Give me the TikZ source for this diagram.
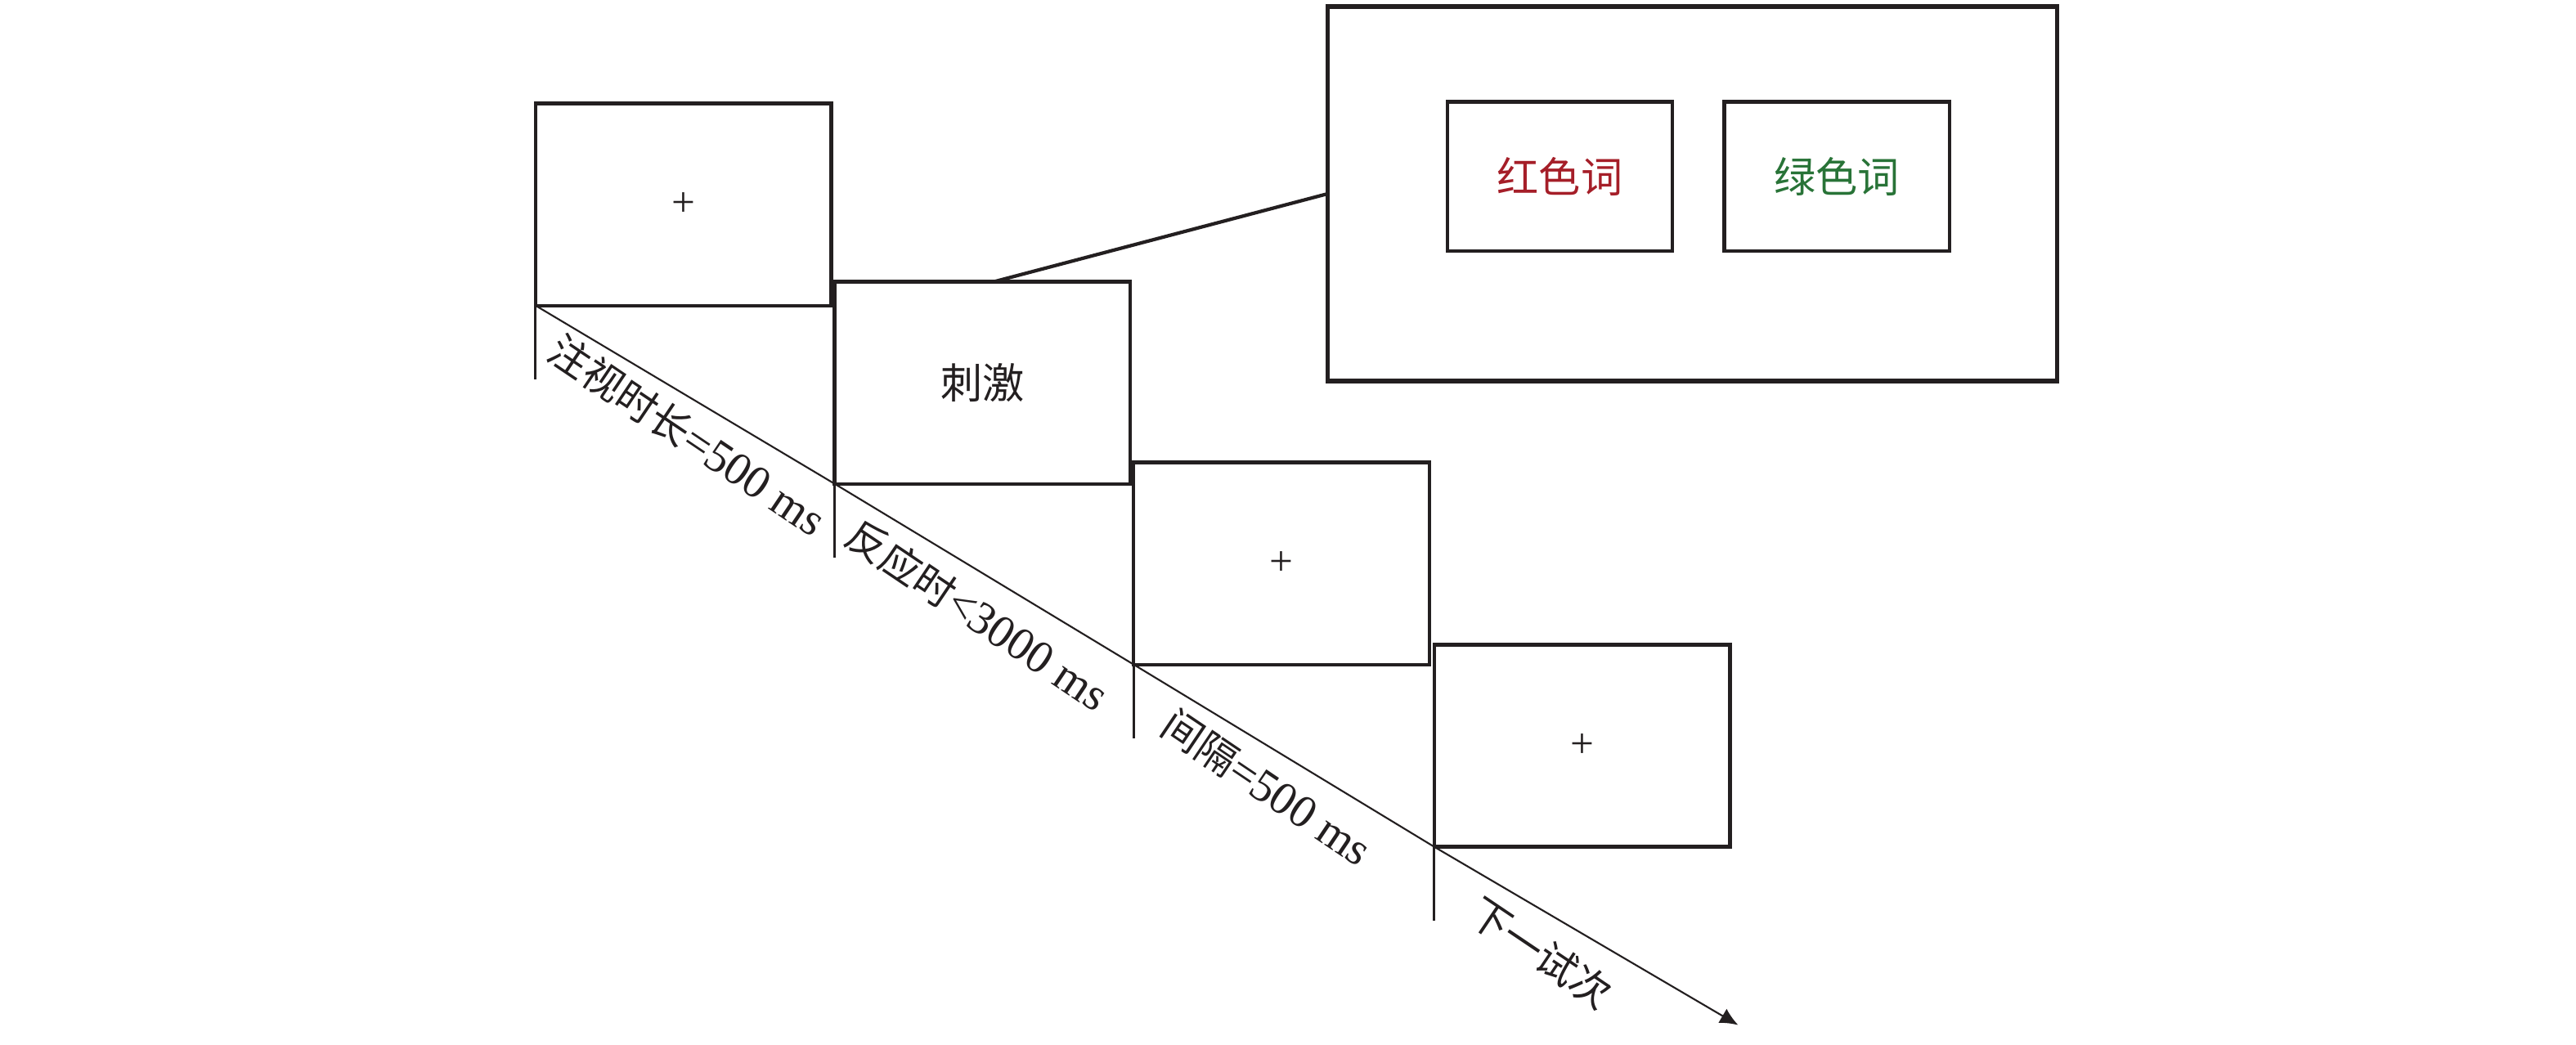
\documentclass[tikz,border=0pt]{standalone}
\usepackage{fontspec}
\setmainfont{Liberation Serif}
\newfontfamily\cjk{Noto Sans CJK SC}
\newcommand\lblzh[1]{{\cjk\fontsize{14pt}{17pt}\selectfont #1}}
\usetikzlibrary{arrows.meta}
\definecolor{ink}{RGB}{35,31,32}
\definecolor{wordred}{RGB}{165,30,40}
\definecolor{wordgreen}{RGB}{40,115,55}
\tikzset{
  screen/.style={draw=ink, text=ink, line width=1.2pt, outer sep=0pt,
    minimum width=36mm, minimum height=24.6mm, inner sep=0pt},
  wordbox/.style={draw=ink, line width=1.2pt, outer sep=0pt,
    minimum width=27.4mm, minimum height=18.2mm},
  lbl/.style={rotate=-34, text=ink, inner sep=0pt, font=\fontsize{16pt}{18pt}\selectfont},
}
\begin{document}
\begin{tikzpicture}[x=0.2mm, y=-0.2mm, font=\fontsize{14.5pt}{17pt}\selectfont]
  \useasboundingbox (0,0) rectangle (1568,636);
  % screens of one trial
  \node[screen] (fix) at (416,124.5) {+};
  \node[screen] (stim) at (598,233) {\cjk 刺激};
  \node[screen] (blank) at (780,343) {+};
  \node[screen] (next) at (963,454) {+};
  \coordinate (end) at (1058,624);
  % enlarged stimulus screen
  \node[draw=ink, line width=1.5pt, outer sep=0pt, minimum width=88.8mm, minimum height=45.6mm] (zoom) at (1030,118) {};
  \node[wordbox, text=wordred] (red) at (949.5,107.5) {\cjk 红色词};
  \node[wordbox, text=wordgreen] (green) at (1118,107.5) {\cjk 绿色词};
  \draw[ink, line width=1.2pt] ([xshift=1.4mm]stim.north) -- (zoom.west);
  % time line
  \draw[ink, line width=0.6pt, -{Latex[length=2.2mm,width=2mm]}] (fix.south west)
    -- (stim.south west) -- (blank.south west) -- (next.south west) -- (end);
  \foreach \n in {fix,stim,blank,next}
    \draw[ink, line width=0.85pt] (\n.south west) -- ++(0,45);
  \node[lbl] (fixtime) at (418.5,265) {\lblzh{注视时长}=500 ms};
  \node[lbl] (rttime) at (595,374.5) {\lblzh{反应时}<3000 ms};
  \node[lbl] (isitime) at (771,479.5) {\lblzh{间隔}=500 ms};
  \node[lbl] (nexttrial) at (938,580) {\lblzh{下一试次}};
\end{tikzpicture}
\end{document}
